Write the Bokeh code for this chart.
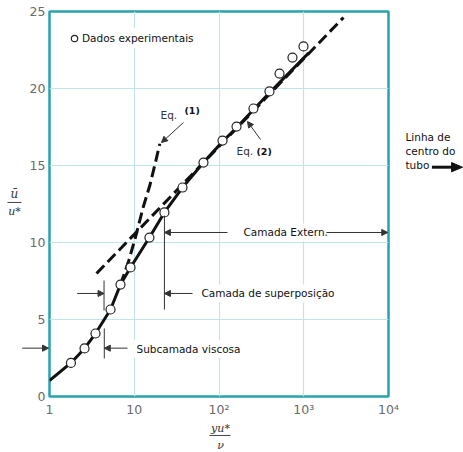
import math
from bokeh.plotting import figure
from bokeh.models import Label, Arrow, NormalHead, FixedTicker, Legend, LegendItem
from bokeh.core.properties import value
from bokeh.embed import file_html
from bokeh.resources import INLINE

# ---------------- data ----------------
exp_yplus = [1.79, 2.59, 3.49, 5.25, 6.88, 9.03, 15.1, 22.7, 37.1, 65.6, 110, 161, 255, 394, 518, 736, 993]
exp_uplus = [2.18, 3.12, 4.09, 5.65, 7.27, 8.38, 10.32, 11.95, 13.57, 15.19, 16.62, 17.53, 18.70, 19.81, 20.97, 22.01, 22.73]

curve_yplus = [1, 1.79, 2.59, 3.49, 5.25, 6.88, 9.03, 15.1, 22.7, 37.1, 65.6, 110, 161, 255, 394, 1138]
curve_uplus = [1.04, 2.18, 3.12, 4.09, 5.65, 7.27, 8.38, 10.32, 11.95, 13.57, 15.19, 16.55, 17.45, 18.62, 19.72, 22.3]

eq1_yplus = [6.88, 8.63, 10.34, 12.75, 15.26, 17.81, 20.0]
eq1_uplus = [7.27, 8.83, 10.34, 12.29, 13.70, 15.21, 16.41]

eq2_yplus = [3.59, 2944]
eq2_uplus = [7.99, 24.61]

x_ticks = [1, 10, 100, 1000, 10000]
x_tick_labels = ["1", "10", "10²", "10³", "10⁴"]
y_ticks = [0, 5, 10, 15, 20, 25]

TEAL = "#27a2ae"
GRID = "#bfe5e7"
FONT = "DejaVu Sans"
SERIF = "DejaVu Serif"

p = figure(width=463, height=452, x_axis_type="log", x_range=(1, 1e4), y_range=(0, 25),
           output_backend="svg", toolbar_location=None,
           min_border_left=49, min_border_right=75, min_border_top=11, min_border_bottom=56)
p.outline_line_color = TEAL
p.outline_line_width = 2.5
p.background_fill_color = "white"
p.border_fill_color = "white"

for ax in (p.xaxis[0], p.yaxis[0]):
    ax.axis_line_color = None
    ax.major_tick_line_color = None
    ax.minor_tick_line_color = None
    ax.major_tick_in = 0
    ax.major_tick_out = 0
    ax.major_label_text_font = FONT
    ax.major_label_text_font_size = "12.5px"
    ax.major_label_text_color = "#6a6a6a"
    ax.major_label_standoff = 5
p.xaxis.ticker = FixedTicker(ticks=x_ticks)
p.xaxis.major_label_overrides = {t: l for t, l in zip(x_ticks, x_tick_labels)}
p.yaxis.ticker = FixedTicker(ticks=y_ticks)
p.yaxis.major_label_standoff = 4

p.xgrid.ticker = FixedTicker(ticks=x_ticks[1:-1])
p.ygrid.ticker = FixedTicker(ticks=y_ticks[1:-1])
p.grid.grid_line_color = GRID
p.grid.grid_line_width = 1.2

# lines
p.line(eq2_yplus, eq2_uplus, line_color="#111111", line_width=3, line_dash="11 5")
p.line(eq1_yplus, eq1_uplus, line_color="#111111", line_width=3, line_dash="11 5")
p.line(curve_yplus, curve_uplus, line_color="#111111", line_width=3)
pts = p.scatter(exp_yplus, exp_uplus, marker="circle", size=9, fill_color="white",
                line_color="#222222", line_width=1.2)

legend = Legend(items=[LegendItem(label="Dados experimentais", renderers=[pts])],
                location="top_left", margin=17, padding=8, glyph_width=16, glyph_height=20,
                label_height=20, label_standoff=0, border_line_color=None,
                background_fill_color="white", background_fill_alpha=1.0,
                label_text_font=FONT, label_text_font_size="10.5px", label_text_color="#111111")
p.add_layout(legend)


def lab(x, y, text, size="10.5px", color="#111111", style="normal", font=FONT,
        align="left", bg=None):
    l = Label(x=x, y=y, text=text, text_font=font, text_font_size=size,
              text_color=color, text_font_style=style, text_align=align,
              text_baseline="middle")
    if bg:
        l.background_fill_color = bg
        l.padding = 3
    p.add_layout(l)


def arr(x0, y0, x1, y1, width=1, color="#333333", head=True, hsize=6):
    a = Arrow(x_start=x0, y_start=y0, x_end=x1, y_end=y1, line_width=width,
              line_color=color,
              end=NormalHead(size=hsize, fill_color=color, line_color=color) if head else None)
    p.add_layout(a)


# ---- outside-frame items: glyphs drawn on the overlay level ----
def otext(x, y, text, size="10.5px", color="#111111", style="normal", font=FONT, align="left"):
    p.text(x=[x], y=[y], text=[text], text_font=value(font), text_font_size=value(size),
           text_color=color, text_font_style=style, text_align=align,
           text_baseline="middle", level="overlay")


def oseg(x0, y0, x1, y1, width=1, color="#333333"):
    p.segment(x0=[x0], y0=[y0], x1=[x1], y1=[y1], line_width=width, line_color=color,
              level="overlay")


def ohead(x_base, x_tip, y, half, color="#333333"):
    p.patch(x=[x_base, x_tip, x_base], y=[y - half, y, y + half],
            fill_color=color, line_color=color, line_width=1, level="overlay")


# Eq. (1)
lab(20.4, 18.31, "Eq.", color="#333333")
lab(39.2, 18.54, "(1)", size="9.5px", style="bold")
arr(38.1, 17.79, 20.97, 16.49)
# Eq. (2)
lab(160.9, 15.97, "Eq.", color="#333333")
lab(277, 15.91, "(2)", size="9.5px", style="bold")
arr(308.9, 16.69, 216.9, 17.86)

# Camada Extern.
lab(179.3, 10.65, "Camada Extern.", bg="white")
arr(126, 10.65, 22.7, 10.65)
arr(1855, 10.65, 9800, 10.65)
arr(22.7, 11.75, 22.7, 5.65, head=False)

# Camada de superposicao
lab(57.3, 6.69, "Camada de superposição", bg="white")
arr(48.7, 6.69, 22.7, 6.69)
arr(2.12, 6.69, 4.40, 6.69)
arr(4.40, 7.53, 4.40, 5.58, head=False)

# Subcamada viscosa
lab(9.8, 3.08, "Subcamada viscosa", bg="white")
arr(8.32, 3.14, 4.43, 3.14)
arr(4.43, 4.42, 4.43, 2.47, head=False)
oseg(0.476, 3.14, 0.85, 3.14)
ohead(0.827, 0.973, 3.14, 0.2)

# Linha de centro do tubo
otext(15870, 16.88, "Linha de")
otext(15870, 15.97, "centro do")
otext(15870, 15.06, "tubo")
oseg(32500, 14.89, 58000, 14.89, width=3, color="#111111")
ohead(55500, 74650, 14.89, 0.3, color="#111111")

# axis labels (fractions)
otext(0.386, 13.18, "ū", size="12px", style="italic", font=SERIF, align="center", color="#333333")
oseg(0.319, 12.60, 0.467, 12.60, color="#444444")
otext(0.386, 12.02, "u*", size="11px", style="italic", font=SERIF, align="center", color="#333333")

otext(104.2, -2.08, "yu*", size="11px", style="italic", font=SERIF, align="center", color="#333333")
oseg(77.2, -2.53, 136.7, -2.53, color="#444444")
otext(104.2, -3.18, "ν", size="11px", style="italic", font=SERIF, align="center", color="#333333")

open("out.html", "w").write(file_html(p, INLINE))
